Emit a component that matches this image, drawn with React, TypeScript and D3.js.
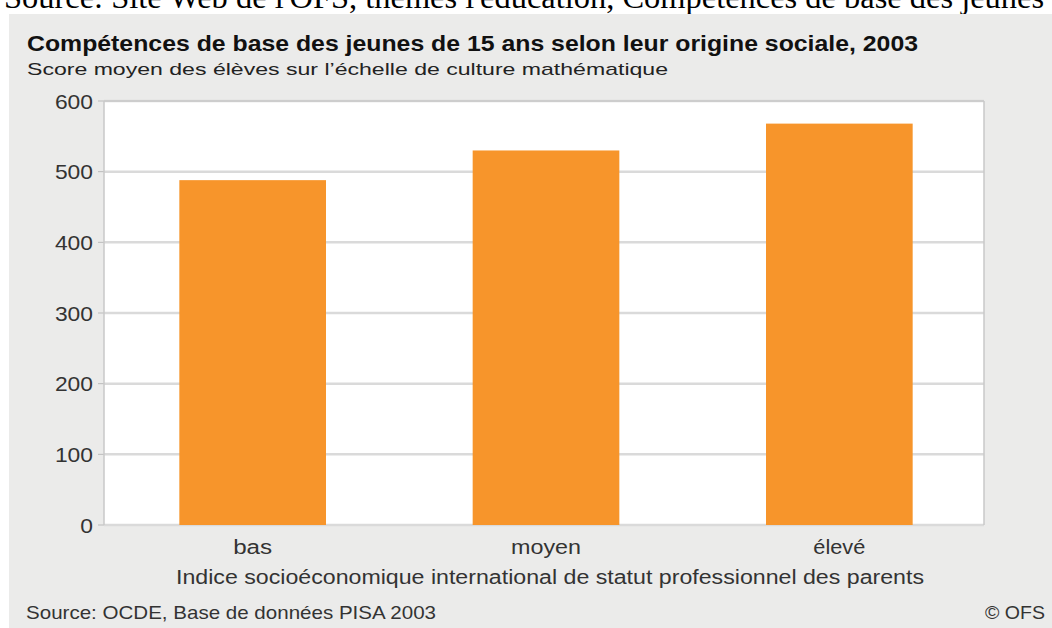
import React from "react";
import * as d3 from "d3";

const categories = ["bas", "moyen", "élevé"];
const scores = [488, 530, 568];
const yTicks = [0, 100, 200, 300, 400, 500, 600];

const title = "Compétences de base des jeunes de 15 ans selon leur origine sociale, 2003";
const subtitle = "Score moyen des élèves sur l’échelle de culture mathématique";
const xTitle = "Indice socioéconomique international de statut professionnel des parents";
const source = "Source: OCDE, Base de données PISA 2003";
const credit = "© OFS";
const topLine = "Source: Site Web de l'OFS, thèmes l'éducation, Compétences de base des jeunes";

export default function App() {
  const W = 1052, H = 628;
  const left = 104, right = 984, top = 101, bottom = 525;
  const x = d3.scaleBand<string>().domain(categories).range([106, 986]).paddingInner(0.5).paddingOuter(0.25);
  const y = d3.scaleLinear().domain([0, 600]).range([bottom, top]);
  const font = "'Liberation Sans', Arial, sans-serif";
  const catLen: Record<string, number> = { bas: 39, moyen: 70, "élevé": 52 };
  return (
    <svg width={W} height={H} style={{ position: "absolute", left: 0, top: 0 }} fontFamily={font}>
      <rect x={0} y={0} width={W} height={H} fill="#ffffff" />
      <text x={4} y={8} fontFamily="'Liberation Serif', 'Times New Roman', serif" fontSize={32} fill="#000"
        textLength={1040} lengthAdjust="spacingAndGlyphs">{topLine}</text>
      <rect x={9} y={14} width={W - 9} height={H - 14} fill="#ebebea" />
      <text x={27} y={51} fontSize={21.5} fontWeight="bold" fill="#111" textLength={891} lengthAdjust="spacingAndGlyphs">{title}</text>
      <text x={27} y={75} fontSize={17} fill="#222" textLength={641} lengthAdjust="spacingAndGlyphs">{subtitle}</text>
      <rect x={left} y={top} width={right - left} height={bottom - top} fill="#ffffff" />
      {yTicks.map(t => (
        <g key={t}>
          <line x1={left} x2={right} y1={y(t)} y2={y(t)} stroke="#dadada" strokeWidth={2.5} />
          <line x1={left - 6} x2={left} y1={y(t)} y2={y(t)} stroke="#bbbbbb" strokeWidth={1} />
          <text x={93} y={y(t) + 7.5} textAnchor="end" fontSize={21} fill="#333"
            textLength={String(t).length * 12.7} lengthAdjust="spacingAndGlyphs">{t}</text>
        </g>
      ))}
      {categories.map((c, i) => (
        <rect key={c} x={x(c)!} y={y(scores[i])} width={x.bandwidth()} height={bottom - y(scores[i])} fill="#f7952b" />
      ))}
      <line x1={left} x2={left} y1={top} y2={bottom} stroke="#c8c8c8" strokeWidth={1.5} />
      <line x1={right} x2={right} y1={top} y2={bottom} stroke="#c8c8c8" strokeWidth={1.5} />
      <line x1={left} x2={right} y1={top} y2={top} stroke="#c8c8c8" strokeWidth={1.5} />
      {categories.map(c => (
        <text key={c} x={x(c)! + x.bandwidth() / 2} y={554} textAnchor="middle" fontSize={20} fill="#333"
          textLength={catLen[c]} lengthAdjust="spacingAndGlyphs">{c}</text>
      ))}
      <text x={550} y={584} textAnchor="middle" fontSize={20} fill="#333" textLength={748} lengthAdjust="spacingAndGlyphs">{xTitle}</text>
      <text x={26} y={619} fontSize={19} fill="#333" textLength={410} lengthAdjust="spacingAndGlyphs">{source}</text>
      <text x={1045} y={619} textAnchor="end" fontSize={19} fill="#333" textLength={60} lengthAdjust="spacingAndGlyphs">{credit}</text>
    </svg>
  );
}
